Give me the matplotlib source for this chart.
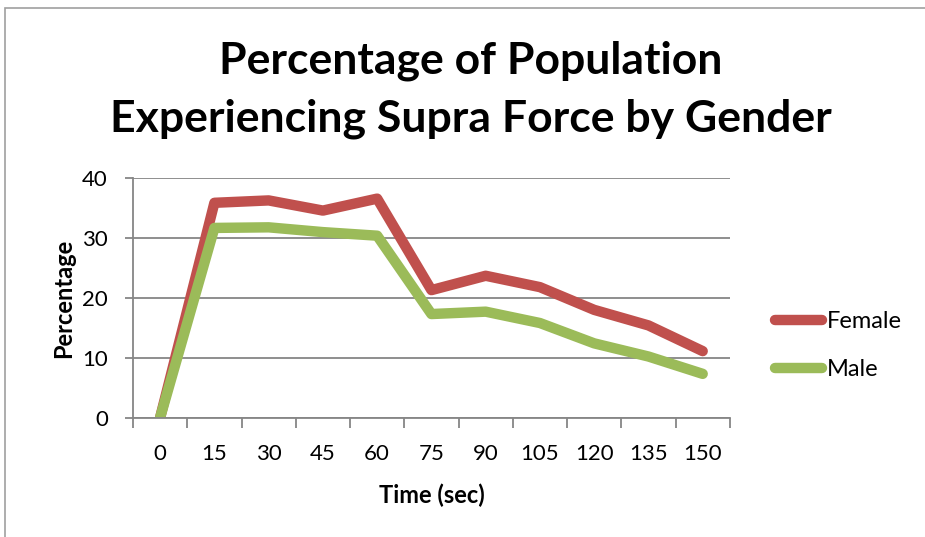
import matplotlib.pyplot as plt
from matplotlib.patches import Rectangle

# Données
temps = ["0", "15", "30", "45", "60", "75", "90", "105", "120", "135", "150"]
female = [0, 35.9, 36.3, 34.6, 36.6, 21.3, 23.7, 21.8, 18.0, 15.4, 11.1]
male = [0, 31.7, 31.8, 31.0, 30.4, 17.3, 17.7, 15.8, 12.4, 10.2, 7.3]

plt.rcParams['font.family'] = ['Lato', 'DejaVu Sans']

fig = plt.figure(figsize=(9.25, 5.37), dpi=100)
ax = fig.add_axes([0.1438, 0.2225, 0.789 - 0.1438, 0.668 - 0.2225])

# cadre gris du graphique
fig.patches.append(Rectangle((5 / 925, -0.1), 1.2, 1.1 - 8 / 537,
                             transform=fig.transFigure, fill=False,
                             edgecolor="#a0a0a0", lw=1.2))

x = list(range(len(temps)))
ax.plot(x, female, color="#C0504D", lw=7.5, solid_capstyle="round",
        solid_joinstyle="round", label="Female")
ax.plot(x, male, color="#9BBB59", lw=7.5, solid_capstyle="round",
        solid_joinstyle="round", label="Male")

ax.set_xlim(-0.5, len(temps) - 0.5)
ax.set_ylim(0, 40)
ax.set_yticks([0, 10, 20, 30, 40])
ax.set_xticks(x)
ax.set_xticklabels(temps)
ax.set_xticks([i - 0.5 for i in range(len(temps) + 1)], minor=True)
ax.tick_params(axis="x", which="major", length=0, pad=19, labelsize=16)
ax.tick_params(axis="x", which="minor", length=7, width=1.3, color="#868686")
ax.tick_params(axis="y", length=6, width=1.3, color="#868686", labelsize=16, pad=12)

ax.grid(axis="y", color="#868686", lw=1.3)
ax.set_axisbelow(True)
for s in ["top", "right"]:
    ax.spines[s].set_visible(False)
for s in ["left", "bottom"]:
    ax.spines[s].set_color("#868686")
    ax.spines[s].set_linewidth(1.3)

ax.set_xlabel("Time (sec)", fontsize=17, fontweight="bold", labelpad=14)
ax.set_ylabel("Percentage", fontsize=17, fontweight="bold", labelpad=5)

fig.suptitle("Percentage of Population\nExperiencing Supra Force by Gender",
             x=471 / 925, y=0.925, fontsize=32, fontweight="bold",
             linespacing=1.55, va="top")

ax.legend(loc="center left", bbox_to_anchor=(1.04, 0.3), frameon=False,
          fontsize=17, handlelength=2.0, handletextpad=0.2, labelspacing=1.15)

fig.savefig("out.png", dpi=100)
